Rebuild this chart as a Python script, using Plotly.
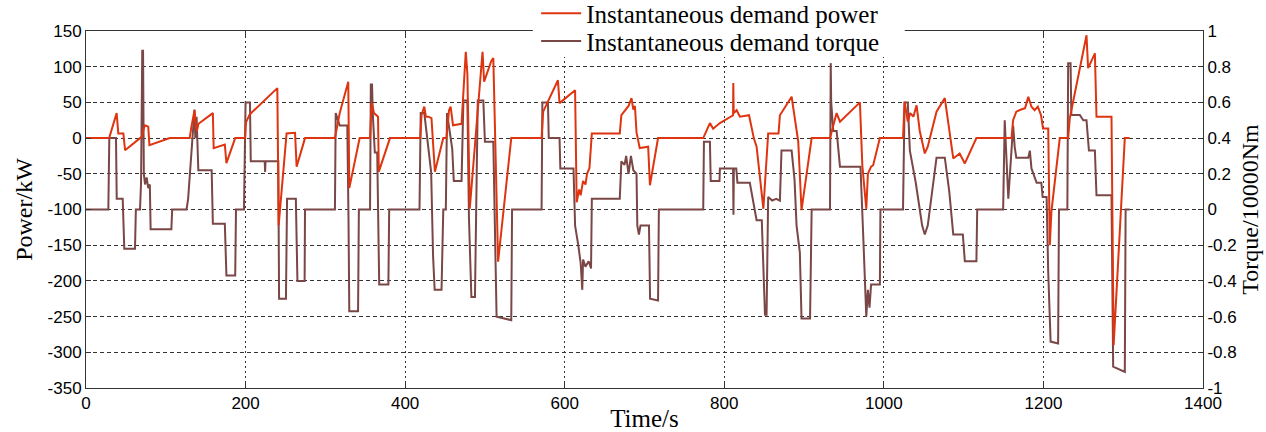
import plotly.graph_objects as go

# ---- data ----
power_t = [0, 29, 38.4, 40.5, 46.8, 49, 67.7, 70, 72, 74, 78, 79.5, 105, 130, 132, 134, 136, 137.5, 139, 141,
           159, 160, 174, 176, 187, 199.5, 200.5, 205, 239.8, 241.5, 251.4, 262, 264, 274.5, 312, 318, 328.7,
           330, 343, 356, 358, 361, 364, 366, 367, 381, 419, 420.5, 424, 426, 429, 433, 437.3, 447.8, 451.8,
           455, 457, 460, 470.7, 476, 478, 481, 497, 499, 508, 510.5, 516.5, 533, 571, 573, 591.5, 593.5, 613,
           615, 618, 620, 623, 626, 628, 631, 634, 669, 671, 676, 680, 683.7, 686, 688, 690, 694, 704.6, 706.8,
           717, 773.6, 777.8, 782, 786, 794.5, 811, 811.3, 811.8, 815.5, 819.6, 831, 837, 840.5, 849, 855, 868,
           869.7, 884.4, 886.5, 892.7, 896.8, 909.5, 932.5, 934.5, 940.8, 945, 970, 973, 977, 978, 980, 984,
           986.6, 995, 1024, 1026, 1030, 1033, 1037, 1041, 1045, 1051.3, 1055, 1066, 1076.4, 1087, 1095, 1101.5,
           1116, 1160, 1162, 1166, 1172, 1177, 1181, 1185, 1189, 1193, 1197, 1199.5, 1206, 1208, 1210, 1220.5,
           1231, 1233, 1254, 1256, 1264.5, 1266.5, 1285.3, 1288, 1302, 1308]
power_kw = [0, 0, 35, 6.5, 6.5, -17, 0, 2, 12, 18, 16, -10, 0, 0, 15, 30, 39, 18, 10, 20,
            35, -14, -9, -35, 0, 0, 22, 33, 70, -122, 6.5, 7.5, -40, 0, 0, 35, 79,
            -70, 0, 0, 50, 35, 32, 30, -47, 0, 0, 32, 44, 30, 30, 28, -47, 0, 0,
            39, 44, 18, 20, 121, 90, -99, 121, 79, 108, 112, -173, 0, 0, 37, 81, 49, 67,
            -90, -72, -80, -60, -65, -50, -42, 6.5, 6.5, 32, 40, 45, 56, 40, 45, 8, -14, -12, -66,
            0, 0, 11, 21, 13, 21, 32, 77, 35, 39, 30, 32, 0, -12, -99, 6.5, 6.5,
            32, 58, 42, -5, -101, 0, 0, 9, 35, 23, 50, -38, -90, -99, -50, -40,
            -38, 0, 0, 51, 23, 35, 30, 46, 10, -21.5, -12, 37, 56, -28.5, -21.5, -35.5,
            0, 0, 25, 37, 40, 42, 58, 44, 39, 44, 32, 13.5, 13.5, -150, -103, 0,
            0, 27.6, 144, 98, 118.7, 30, 30, -290, 0, 0]

torque_t = [0, 28, 29.2, 37.6, 38.5, 46, 48, 61.4, 62.5, 67.7, 69, 70.5, 71.5, 72.5, 74, 76, 78, 80, 81, 107,
            108, 126, 128, 134.5, 136, 137, 138.6, 140.8, 157.5, 159, 174, 176, 187, 188, 198, 200, 205.5,
            206.5, 224, 224.5, 225, 241, 242, 250.6, 252, 263, 265, 274, 274.5, 312, 313, 318, 327.5, 329, 330,
            341, 342, 356, 357, 358.5, 359.5, 362, 365, 367.5, 379, 380, 418, 419.5, 424, 432.6, 435, 437,
            445.6, 447.8, 451, 452.5, 459, 461, 470.7, 473, 478, 480, 483, 487.5, 491, 498, 500, 510.5, 512.5,
            514.6, 533, 534, 571, 572, 579, 580, 593.5, 594.5, 611, 613, 617, 620, 622, 623, 626, 630, 633,
            634, 669, 671, 675, 677, 680, 683, 686, 690, 691, 693, 695, 705.6, 707, 717, 718, 773.6, 774.5,
            782, 783, 794, 794.5, 811, 811.5, 812, 815, 816.5, 832, 834, 840.5, 847, 849, 851, 853, 855, 860,
            865, 869.7, 871.7, 884.4, 888, 890.6, 894.7, 896.8, 907.5, 909.5, 932.5, 933.4, 934, 936.6, 940.8,
            945, 970.7, 974, 978, 980, 982, 984, 995, 995.7, 1024, 1026, 1030, 1032.6, 1036, 1040, 1045, 1048,
            1051.3, 1055, 1066, 1076.4, 1082, 1087, 1099, 1101.5, 1116, 1117, 1149.5, 1151.5, 1156, 1162,
            1164, 1166, 1181, 1183, 1185, 1191.5, 1197.4, 1199, 1204, 1206, 1209, 1218.4, 1219.5, 1230, 1231,
            1234, 1235, 1245.6, 1250, 1254, 1257, 1264.5, 1266.5, 1285.3, 1287.4, 1302, 1303, 1308]
torque_val = [0, 0, 0.4, 0.4, 0.06, 0.06, -0.22, -0.22, 0, 0, 0.15, 0.89, 0.89, 0.2, 0.14, 0.18, 0.12, 0.14, -0.11, -0.11,
              0, 0, 0.06, 0.47, 0.56, 0.4, 0.52, 0.22, 0.22, -0.08, -0.08, -0.37, -0.37, 0, 0, 0.6, 0.6,
              0.27, 0.27, 0.21, 0.27, 0.27, -0.5, -0.5, 0.06, 0.06, -0.4, -0.4, 0, 0, 0.54, 0.47, 0.47, -0.05, -0.57,
              -0.57, 0, 0, 0.7, 0.7, 0.53, 0.32, 0.32, -0.42, -0.42, 0, 0, 0.54, 0.54, 0.21, -0.26, -0.45,
              -0.45, 0, 0, 0.54, 0.34, 0.16, 0.16, 0.61, 0.61, -0.05, -0.49, -0.49, 0.61, 0.61, 0.38, 0.38, -0.14,
              -0.6, -0.62, 0, 0, 0.6, 0.6, 0.4, 0.4, 0.23, 0.23, -0.09, -0.2, -0.3, -0.45, -0.28, -0.32, -0.29, -0.33,
              0.06, 0.06, 0.27, 0.25, 0.3, 0.2, 0.3, 0.22, 0.2, -0.09, -0.14, -0.09, -0.09, -0.5, -0.51, 0, 0, 0.38,
              0.38, 0.16, 0.16, 0.23, 0.23, -0.03, 0.23, 0.23, 0.15, 0.15, 0.1, -0.06, -0.06, -0.34, -0.59, -0.59, 0.07, 0.05,
              0.06, 0.05, 0.33, 0.33, 0.17, -0.09, -0.24, -0.61, -0.61, 0, 0, 0.82, 0.6, 0.44, 0.44,
              0.24, 0.24, -0.13, -0.6, -0.45, -0.55, -0.42, -0.42, 0, 0, 0.6, 0.6, 0.33, 0.25, 0.15, 0.0, -0.09,
              -0.14, -0.09, 0.29, 0.29, 0.1, -0.14, -0.14, -0.29, -0.29, 0, 0, 0.5, 0.06, 0.47,
              0.35, 0.29, 0.29, 0.33, 0.23, 0.15, 0.15, 0.07, 0.07, -0.35, -0.74, -0.75, 0, 0, 0.82,
              0.82, 0.53, 0.53, 0.5, 0.5, 0.33, 0.33, 0.08, 0.08, -0.88, -0.91, 0, 0]

x_ticks = [0, 200, 400, 600, 800, 1000, 1200, 1400]
x_ticklabels = ["0", "200", "400", "600", "800", "1000", "1200", "1400"]
power_ticks = [150, 100, 50, 0, -50, -100, -150, -200, -250, -300, -350]
power_ticklabels = ["150", "100", "50", "0", "-50", "-100", "-150", "-200", "-250", "-300", "-350"]
torque_ticks = [1, 0.8, 0.6, 0.4, 0.2, 0, -0.2, -0.4, -0.6, -0.8, -1]
torque_ticklabels = ["1", "0.8", "0.6", "0.4", "0.2", "0", "-0.2", "-0.4", "-0.6", "-0.8", "-1"]

RED = "#DE3510"
BROWN = "#7A4646"
SERIF = "Times New Roman, Liberation Serif, serif"
SANS = "Arial, Liberation Sans, sans-serif"

fig = go.Figure()
fig.add_trace(go.Scatter(x=torque_t, y=torque_val, mode="lines", name="Instantaneous demand torque",
                         line=dict(color=BROWN, width=2), yaxis="y", legend="legend2"))
fig.add_trace(go.Scatter(x=power_t, y=power_kw, mode="lines", name="Instantaneous demand power",
                         line=dict(color=RED, width=2), yaxis="y2", legend="legend"))

leg_common = dict(xanchor="left", yanchor="middle", bgcolor="rgba(0,0,0,0)",
                  font=dict(family=SERIF, size=25, color="black"),
                  borderwidth=0, itemwidth=40)

fig.update_layout(
    width=1266, height=432,
    margin=dict(l=86, r=63, t=31, b=44, autoexpand=False),
    paper_bgcolor="white", plot_bgcolor="white",
    showlegend=True,
    legend=dict(x=0.403, y=1.049, **leg_common),
    legend2=dict(x=0.403, y=0.971, **leg_common),
    # white backing box behind the legend (as in the reference)
    shapes=[dict(type="rect", xref="paper", yref="paper", x0=0.400, x1=0.733, y0=0.927, y1=1.10,
                 fillcolor="white", line=dict(width=0), layer="above")],
    xaxis=dict(range=[0, 1400], tickvals=x_ticks, ticktext=x_ticklabels, automargin=False,
               showgrid=True, gridcolor="#333", griddash="2px,3px", gridwidth=1,
               showline=True, linecolor="#333", linewidth=1, mirror="ticks",
               ticks="inside", ticklen=5, tickcolor="#333",
               tickfont=dict(family=SANS, size=17, color="black"),
               title=dict(text="Time/s", font=dict(family=SERIF, size=25, color="black"), standoff=2),
               zeroline=False),
    yaxis=dict(range=[-1, 1], side="right", tickvals=torque_ticks, ticktext=torque_ticklabels, automargin=False,
               showgrid=True, gridcolor="#333", griddash="4px,3px", gridwidth=1,
               showline=True, linecolor="#333", linewidth=1,
               ticks="inside", ticklen=5, tickcolor="#333",
               tickfont=dict(family=SANS, size=17, color="black"),
               title=dict(text="Torque/10000Nm", font=dict(family=SERIF, size=24, color="black"), standoff=0),
               zeroline=False),
    yaxis2=dict(range=[-350, 150], side="left", overlaying="y", tickvals=power_ticks, ticktext=power_ticklabels,
                automargin=False, showgrid=False, showline=True, linecolor="#333", linewidth=1,
                ticks="inside", ticklen=5, tickcolor="#333",
                tickfont=dict(family=SANS, size=17, color="black"),
                title=dict(text="Power/kW", font=dict(family=SERIF, size=24, color="black"), standoff=8),
                zeroline=False),
)

fig.write_html("out.html", config={"displayModeBar": False},
               post_script="document.body.style.margin='0';document.body.style.overflow='hidden';")
